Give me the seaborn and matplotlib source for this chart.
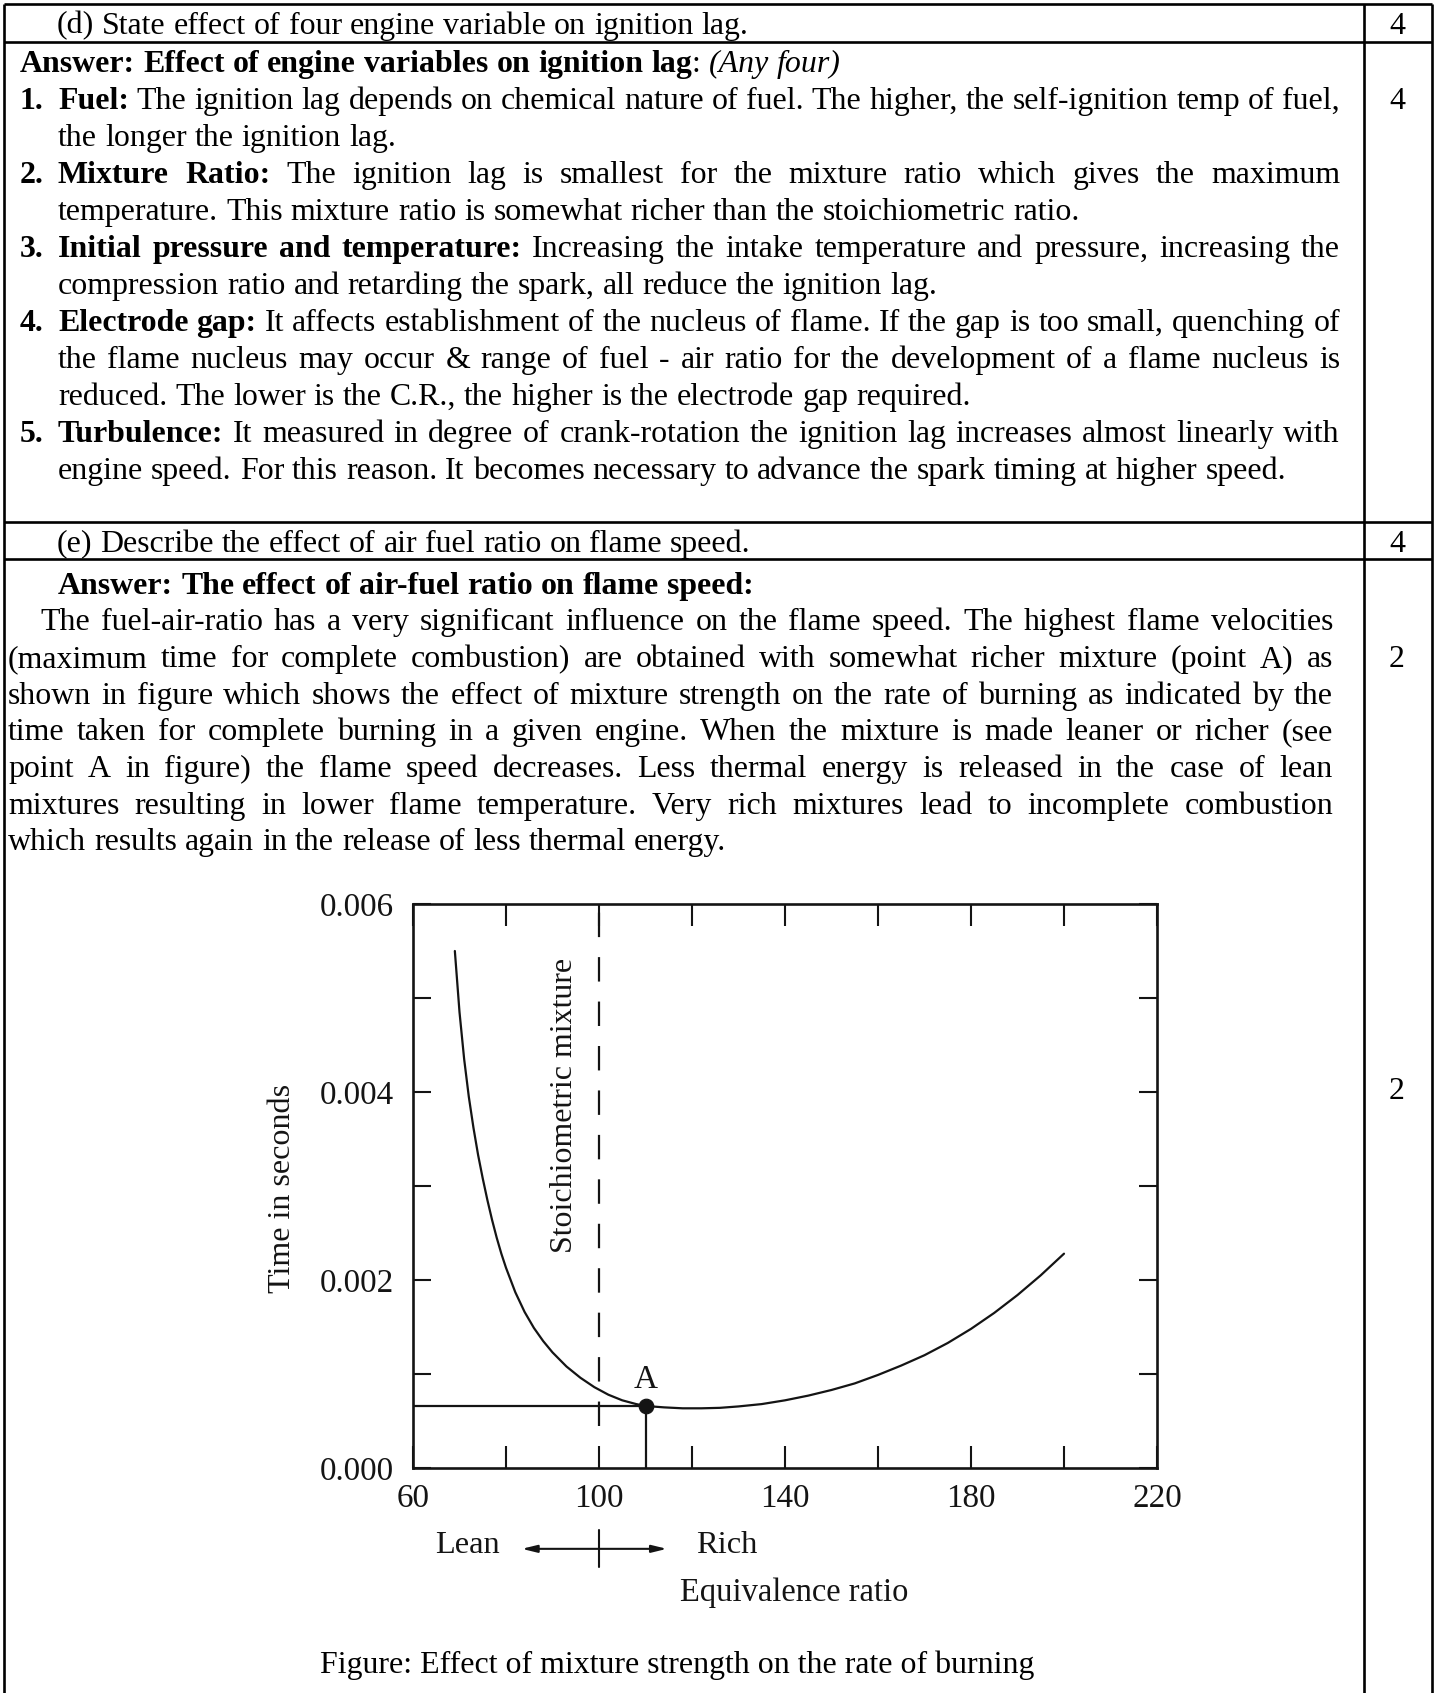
import matplotlib
matplotlib.use("Agg")
import matplotlib.pyplot as plt
import seaborn as sns
import numpy as np
import pandas as pd

# ---------------- data ----------------
equiv_ratio = [69, 70, 71, 72, 73, 74, 75, 76, 77, 78, 79, 80, 82, 84, 86, 88,
               90, 93, 96, 99, 102, 105, 108, 110, 114, 118, 122, 126, 130,
               135, 140, 145, 150, 155, 160, 165, 170, 175, 180, 185, 190,
               195, 200]
burn_time = [0.00550, 0.00485, 0.00435, 0.00395, 0.00362, 0.00333, 0.00308,
             0.00285, 0.00264, 0.00245, 0.00228, 0.00213, 0.00187, 0.00166,
             0.00149, 0.00135, 0.00123, 0.00108, 0.00096, 0.00086, 0.00078,
             0.00072, 0.00068, 0.00066, 0.000645, 0.000635, 0.000635,
             0.00064, 0.000655, 0.00068, 0.00072, 0.00077, 0.00083, 0.00090,
             0.00099, 0.00109, 0.00120, 0.00133, 0.00148, 0.00165, 0.00184,
             0.00205, 0.00228]
point_a = (110, 0.00066)
stoich_ratio = 100
x_ticks = [60, 80, 100, 120, 140, 160, 180, 200, 220]
x_tick_labels = ["60", "", "100", "", "140", "", "180", "", "220"]
y_ticks = [0.000, 0.001, 0.002, 0.003, 0.004, 0.005, 0.006]
y_tick_labels = ["0.000", "", "0.002", "", "0.004", "", "0.006"]

q_d = "(d) State effect of four engine variable on ignition lag."
q_e = "(e) Describe the effect of air fuel ratio on flame speed."
marks_d = ["4", "4"]
marks_e = ["4", "2", "2"]
caption = "Figure: Effect of mixture strength on the rate of burning"

# (markup, number, justified)
sec1 = [
    ("**Answer: Effect of engine variables on ignition lag**: *(Any four)*", None, False),
    ("**Fuel:** The ignition lag depends on chemical nature of fuel. The higher, the self-ignition temp of fuel,", "1.", True),
    ("the longer the ignition lag.", None, False),
    ("**Mixture Ratio:** The ignition lag is smallest for the mixture ratio which gives the maximum", "2.", True),
    ("temperature. This mixture ratio is somewhat richer than the stoichiometric ratio.", None, False),
    ("**Initial pressure and temperature:** Increasing the intake temperature and pressure, increasing the", "3.", True),
    ("compression ratio and retarding the spark, all reduce the ignition lag.", None, False),
    ("**Electrode gap:** It affects establishment of the nucleus of flame. If the gap is too small, quenching of", "4.", True),
    ("the flame nucleus may occur & range of fuel - air ratio for the development of a flame nucleus is", None, True),
    ("reduced. The lower is the C.R., the higher is the electrode gap required.", None, False),
    ("**Turbulence:** It measured in degree of crank-rotation the ignition lag increases almost linearly with", "5.", True),
    ("engine speed. For this reason. It becomes necessary to advance the spark timing at higher speed.", None, False),
]
sec2 = [
    ("**Answer: The effect of air-fuel ratio on flame speed:**", False),
    ("The fuel-air-ratio has a very significant influence on the flame speed. The highest flame velocities", True),
    ("(maximum time for complete combustion) are obtained with somewhat richer mixture (point A) as", True),
    ("shown in figure which shows the effect of mixture strength on the rate of burning as indicated by the", True),
    ("time taken for complete burning in a given engine. When the mixture is made leaner or richer (see", True),
    ("point A in figure) the flame speed decreases. Less thermal energy is released in the case of lean", True),
    ("mixtures resulting in lower flame temperature. Very rich mixtures lead to incomplete combustion", True),
    ("which results again in the release of less thermal energy.", False),
]

# ---------------- setup ----------------
sns.set_style("white")
SERIF = "Liberation Serif"
plt.rcParams["font.family"] = [SERIF, "DejaVu Serif"]

W, H = 1435, 1693
fig = plt.figure(figsize=(W / 100, H / 100), dpi=100)
fig.patch.set_facecolor("white")
ax0 = fig.add_axes([0, 0, 1, 1])
ax0.set_xlim(0, W)
ax0.set_ylim(H, 0)
ax0.axis("off")
R = fig.canvas.get_renderer()

STY = {"n": ("normal", "normal"), "b": ("bold", "normal"), "i": ("normal", "italic")}


def tw(s, size, st="n"):
    wgt, sty = STY[st]
    t = fig.text(0, 0, s, fontsize=size, fontweight=wgt, fontstyle=sty, family=SERIF)
    w = t.get_window_extent(R).width
    t.remove()
    return w


def fit(s, target, st="n"):
    return 20 * target / tw(s, 20, st)


BODY = fit(sec1[-1][0], 1229)
EM = BODY * 100 / 72
SPACE = tw("a a", BODY) - tw("aa", BODY)


def parse(s):
    segs, buf, style, i = [], "", "n", 0
    while i < len(s):
        if s.startswith("**", i):
            if buf:
                segs.append((buf, style)); buf = ""
            style = "n" if style == "b" else "b"; i += 2
        elif s[i] == "*":
            if buf:
                segs.append((buf, style)); buf = ""
            style = "n" if style == "i" else "i"; i += 1
        else:
            buf += s[i]; i += 1
    if buf:
        segs.append((buf, style))
    return segs


def tokenize(segs):
    toks = [[]]
    for text, st in segs:
        parts = text.split(" ")
        for j, p in enumerate(parts):
            if j > 0:
                toks.append([])
            if p:
                toks[-1].append((p, st))
    return [t for t in toks if t]


def draw_line(markup, yc, xl, xr=None, justify=False):
    toks = tokenize(parse(markup))
    widths = [[tw(p, BODY, st) for p, st in tok] for tok in toks]
    tot = sum(sum(w) for w in widths)
    gap = SPACE
    if justify and len(toks) > 1:
        gap = (xr - xl - tot) / (len(toks) - 1)
    x = xl
    yb = yc + 0.33 * EM
    for tok, ws in zip(toks, widths):
        for (p, st), w in zip(tok, ws):
            wgt, sty = STY[st]
            ax0.text(x, yb, p, fontsize=BODY, fontweight=wgt, fontstyle=sty,
                     family=SERIF, ha="left", va="baseline", color="black")
            x += w
        x += gap


def draw_center(s, xc, yc, st="n", size=None):
    wgt, sty = STY[st]
    ax0.text(xc, yc + 0.33 * EM, s, fontsize=size or BODY, fontweight=wgt,
             fontstyle=sty, family=SERIF, ha="center", va="baseline", color="black")


# ---------------- table grid ----------------
LW = 1.9
for yy in [4, 42, 522, 559]:
    ax0.plot([4, 1432], [yy, yy], color="black", lw=LW, solid_capstyle="butt")
for xx in [4, 1364, 1432]:
    ax0.plot([xx, xx], [4, H], color="black", lw=LW, solid_capstyle="butt")

# ---------------- section (d) ----------------
draw_line(q_d, 23, 57)
draw_center(marks_d[0], 1397, 23)
draw_center(marks_d[1], 1397, 98)
LS = 37.0
y = 61
for markup, num, just in sec1:
    if num is None and not markup.startswith("**Answer"):
        draw_line(markup, y, 58, 1340, just)
    elif num is None:
        draw_line(markup, y, 20)
    else:
        draw_line("**" + num + "**", y, 20)
        draw_line(markup, y, 58, 1340, just)
    y += LS

# ---------------- section (e) ----------------
draw_line(q_e, 541, 57)
draw_center(marks_e[0], 1397, 541)
y = 583
for i, (markup, just) in enumerate(sec2):
    if i == 0:
        xl = 58
    elif i == 1:
        xl = 40
    else:
        xl = 8
    draw_line(markup, y, xl, 1333, just)
    y += 36.7
draw_center(marks_e[1], 1397, 656)
draw_center(marks_e[2], 1397, 1088)
draw_center(caption, 677, 1662)

# ---------------- chart ----------------
L, Rr, T, B = 413, 1157, 904, 1468
ax = fig.add_axes([L / W, 1 - B / H, (Rr - L) / W, (B - T) / H])
ax.set_facecolor("white")
INK = "#141414"
df = pd.DataFrame({"ratio": equiv_ratio, "time": burn_time})
sns.lineplot(data=df, x="ratio", y="time", ax=ax, color=INK, lw=1.6)
ax.set_xlim(60, 220)
ax.set_ylim(0, 0.006)

# stoichiometric line
ax.vlines(stoich_ratio, 0.00045, 0.006, colors=INK, lw=1.6,
          linestyles=(0, (11, 9)))
# point A construction lines
ax.hlines(point_a[1], 60, point_a[0], colors=INK, lw=1.6)
ax.vlines(point_a[0], 0, point_a[1], colors=INK, lw=1.6)
sns.scatterplot(x=[point_a[0]], y=[point_a[1]], ax=ax, color=INK, s=110,
                edgecolor=INK, zorder=5)

TICK = fit("0.004", 74)
ax.text(point_a[0], 0.00094, "A", ha="center", va="center", fontsize=TICK,
        family=SERIF, color=INK)
ax.text(92.5, 0.00386, "Stoichiometric mixture", rotation=90, ha="center",
        va="center", fontsize=fit("Stoichiometric mixture", 295), family=SERIF,
        color=INK)

for sp in ax.spines.values():
    sp.set_visible(True)
    sp.set_color(INK)
    sp.set_linewidth(1.9)

ax.set_xticks(x_ticks)
ax.set_xticklabels(x_tick_labels)
ax.set_yticks(y_ticks)
ax.set_yticklabels(y_tick_labels)
ax.tick_params(axis="x", direction="in", length=16, width=1.5, top=True,
               bottom=True, labelsize=TICK, pad=11, colors=INK, labelcolor=INK)
ax.tick_params(axis="y", direction="in", length=13, width=1.5, left=True,
               right=True, labelsize=TICK, pad=14, colors=INK, labelcolor=INK)
for lab in ax.get_xticklabels() + ax.get_yticklabels():
    lab.set_family(SERIF)

ax.set_xlabel("")
ax.set_ylabel("Time in seconds", fontsize=fit("Time in seconds", 210),
              family=SERIF, color=INK)
ax.yaxis.label.set_va("center")
ax.yaxis.set_label_coords((283 - L) / (Rr - L), (B - 1188) / (B - T))

# below-axis annotations
SUB = fit("Lean", 65)
y_lr = -0.00082
ax.text(71.6, y_lr, "Lean", ha="center", va="center", fontsize=SUB,
        family=SERIF, color=INK, clip_on=False)
ax.text(127.5, y_lr, "Rich", ha="center", va="center", fontsize=SUB,
        family=SERIF, color=INK, clip_on=False)
ax.annotate("", xy=(83.4, -0.00086), xytext=(114.6, -0.00086),
            xycoords="data", annotation_clip=False,
            arrowprops=dict(arrowstyle="<|-|>,head_length=0.9,head_width=0.22",
                            color=INK, lw=1.5, shrinkA=0, shrinkB=0))
ax.plot([stoich_ratio, stoich_ratio], [-0.00066, -0.00105], color=INK, lw=1.5,
        clip_on=False)
ax.text(142, -0.00133, "Equivalence ratio", ha="center", va="center",
        fontsize=fit("Equivalence ratio", 229), family=SERIF, color=INK,
        clip_on=False)

fig.savefig("out.png", dpi=100, facecolor="white")
